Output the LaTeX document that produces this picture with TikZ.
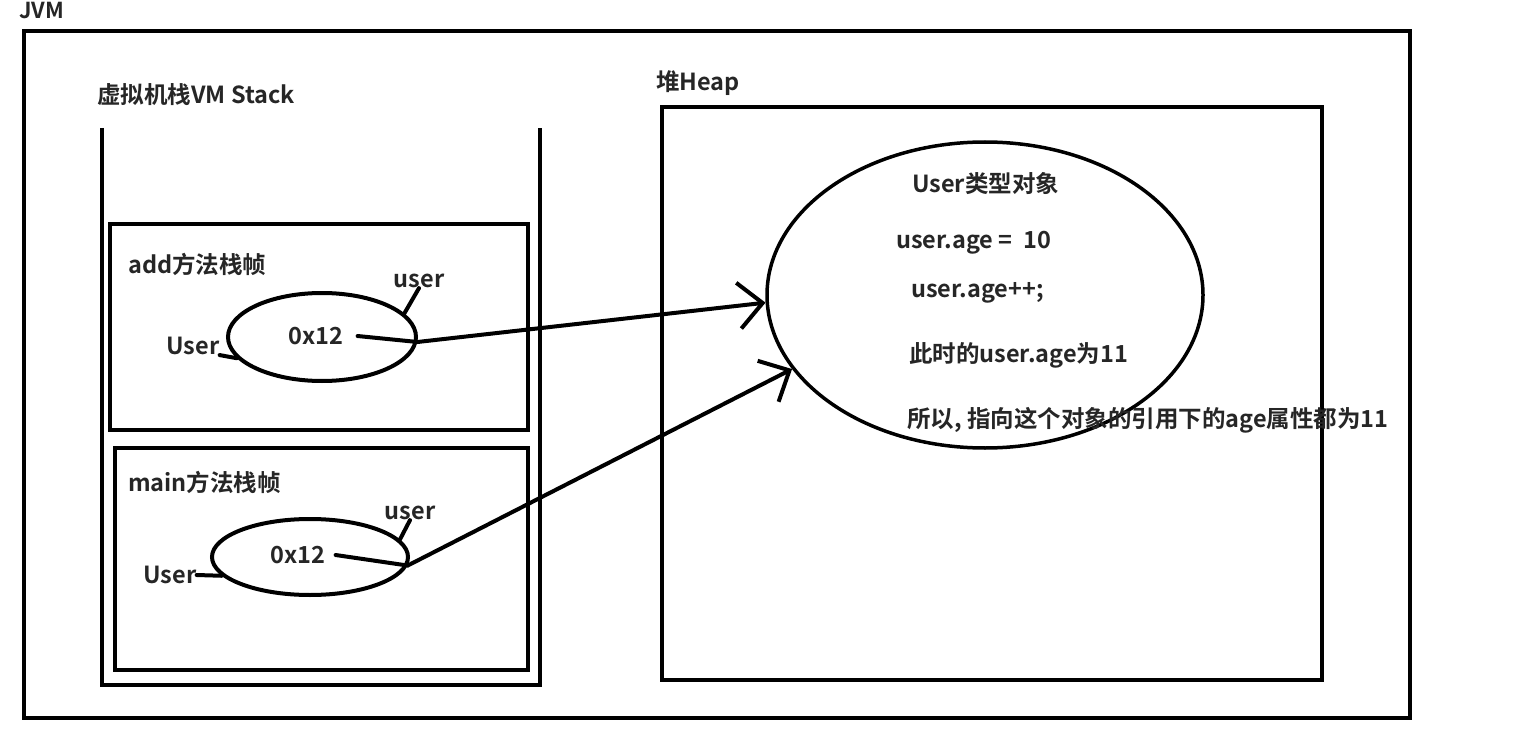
\documentclass[tikz,border=0pt]{standalone}
\usepackage{fontspec}
\setmainfont{Noto Sans CJK SC}[BoldFont={Noto Sans CJK SC Bold}]
\usetikzlibrary{shapes.geometric,arrows.meta}

\tikzset{
  lbl/.style={anchor=west, inner sep=0pt, text=black!85, font=\bfseries\fontsize{23.5}{28}\selectfont},
  tag/.style={lbl, anchor=center},
  frame/.style={draw, line width=4pt},
  ref/.style={ellipse, draw, line width=4pt, inner sep=0pt},
  tick/.style={line width=4pt, line cap=round},
  ptr/.style={line width=4pt, line cap=round, -{Straight Barb[length=24pt, width=46pt]}},
}

\begin{document}
\begin{tikzpicture}[x=1pt, y=-1pt]
  \useasboundingbox (0,0) rectangle (1518,738);
  \node[lbl, font=\bfseries\fontsize{22}{26}\selectfont] (jvm) at (19,11) {JVM};
  \draw[frame] (24,31) rectangle (1410,718);

  % stack and its frames
  \node[lbl] (vmstack) at (97,95) {虚拟机栈VM Stack};
  \draw[frame] (102,128) -- (102,685) -- (540,685) -- (540,128);
  \draw[frame] (110,224) rectangle (528,430);
  \draw[frame] (115,448) rectangle (528,670);

  \node[lbl] (addname) at (128,264) {add方法栈帧};
  \node[ref, minimum width=188pt, minimum height=88pt] (addref) at (322,337) {};
  \node[tag] (addval) at (316,336) {0x12};
  \node[tag] (addvar) at (419,281) {user};
  \node[tag] (addtype) at (193,346) {User};

  \node[lbl] (mainname) at (128,482) {main方法栈帧};
  \node[ref, minimum width=196pt, minimum height=76pt] (mainref) at (310,557) {};
  \node[tag] (mainval) at (298,555) {0x12};
  \node[tag] (mainvar) at (410,513) {user};
  \node[tag] (maintype) at (170,575) {User};

  % heap
  \node[lbl] (heapname) at (656,83) {堆Heap};
  \draw[frame, line width=3.5pt] (662,107) rectangle (1322,680);
  \node[ref, line width=3.5pt, minimum width=436pt, minimum height=306pt] (obj) at (985,295) {};
  \node[lbl] (objtype) at (912,184) {User类型对象};
  \node[lbl] (objinit) at (896,243) {user.age = \ 10};
  \node[lbl] (objinc) at (911,293) {user.age++;};
  \node[lbl] (objnow) at (909,355) {此时的user.age为11};
  \node[lbl] (objnote) at (907,420) {所以, 指向这个对象的引用下的age属性都为11};

  % references
  \draw[tick] (addvar.south) -- (addref.16);
  \draw[tick] (addtype.south east) -- (addref.194);
  \draw[ptr] ([xshift=14pt]addval.east) -- (addref.-3) -- (obj.182);
  \draw[tick] (mainvar.south) -- (mainref.11);
  \draw[tick] (maintype.east) -- (mainref.192);
  \draw[ptr] ([xshift=10pt]mainval.east) -- (mainref.-5) -- (obj.201);
\end{tikzpicture}
\end{document}
